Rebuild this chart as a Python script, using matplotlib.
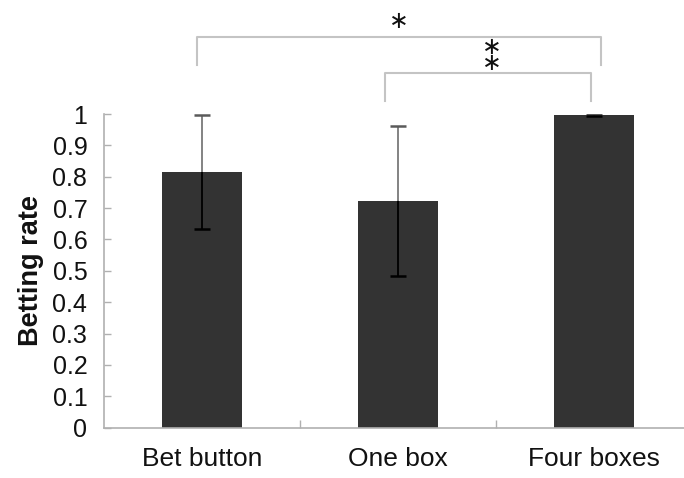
import matplotlib
matplotlib.use("Agg")
import matplotlib.pyplot as plt
import numpy as np

categories = ["Bet button", "One box", "Four boxes"]
means = [0.815, 0.724, 0.996]
errors = [0.181, 0.239, 0.003]
yticks = [0, 0.1, 0.2, 0.3, 0.4, 0.5, 0.6, 0.7, 0.8, 0.9, 1]
ytick_labels = ["0", "0.1", "0.2", "0.3", "0.4", "0.5", "0.6", "0.7", "0.8", "0.9", "1"]

plt.rcParams['font.family'] = ['Liberation Sans', 'DejaVu Sans']

fig = plt.figure(figsize=(6.84, 4.78), dpi=100)
W, H = 684, 478
left_px, right_px, top_px, bot_px = 104, 684, 114, 427.7
ax = fig.add_axes([left_px / W, (H - bot_px) / H, (right_px - left_px) / W, (bot_px - top_px) / H])

x = np.arange(len(categories))
m = np.array(means)
e = np.array(errors)
ax.bar(x, m, width=0.41, color="#333333", zorder=2)
# upper part of error bars (above bar, gray) and lower part (inside bar, black)
ax.vlines(x, m, m + e, color="#7a7a7a", lw=1.3, zorder=3)
ax.vlines(x, m - e, m, color="#000000", lw=1.3, zorder=3)
ax.plot(x, m + e, ls="none", marker="_", ms=11, mew=1.8, color="#5a5a5a", zorder=4)
ax.plot(x, m - e, ls="none", marker="_", ms=11, mew=1.8, color="#000000", zorder=4)

ax.set_ylim(0, 1)
ax.set_xlim(-0.5, -0.5 + (right_px - left_px) / 196.0)
ax.set_yticks(yticks)
ax.set_yticklabels(ytick_labels)
ax.set_xticks(x)
ax.set_xticklabels(categories)
ax.set_xticks([0.5, 1.5], minor=True)

for s in ["top", "right"]:
    ax.spines[s].set_visible(False)
for s in ["left", "bottom"]:
    ax.spines[s].set_color("#b0b0b0")
    ax.spines[s].set_linewidth(1.2)

ax.tick_params(axis="y", direction="in", length=5, width=1, color="#b0b0b0",
               labelsize=18, pad=12, labelcolor="#111111")
ax.tick_params(axis="x", which="major", length=0, labelsize=19, pad=14, labelcolor="#111111")
ax.tick_params(axis="x", which="minor", direction="in", length=6, width=1, color="#b0b0b0")

ax.set_ylabel("Betting rate", fontsize=19.5, fontweight="bold", labelpad=6, color="#111111")

# significance brackets
gray = "#c4c4c4"
b1x = [-0.026, -0.026, 2.036, 2.036]
b1y = [1.156, 1.245, 1.245, 1.156]
ax.plot(b1x, b1y, color=gray, lw=1.5, clip_on=False)
ax.text(1.005, 1.297, "\u2217", ha="center", va="center", fontsize=17,
        family=["DejaVu Sans"], color="#111111", clip_on=False)

b2x = [0.934, 0.934, 1.985, 1.985]
b2y = [1.041, 1.130, 1.130, 1.041]
ax.plot(b2x, b2y, color=gray, lw=1.5, clip_on=False)
ax.text(1.48, 1.188, "\u2217\n\u2217", ha="center", va="center", fontsize=17,
        linespacing=0.6, family=["DejaVu Sans"], color="#111111", clip_on=False)

fig.savefig("out.png", dpi=100)
